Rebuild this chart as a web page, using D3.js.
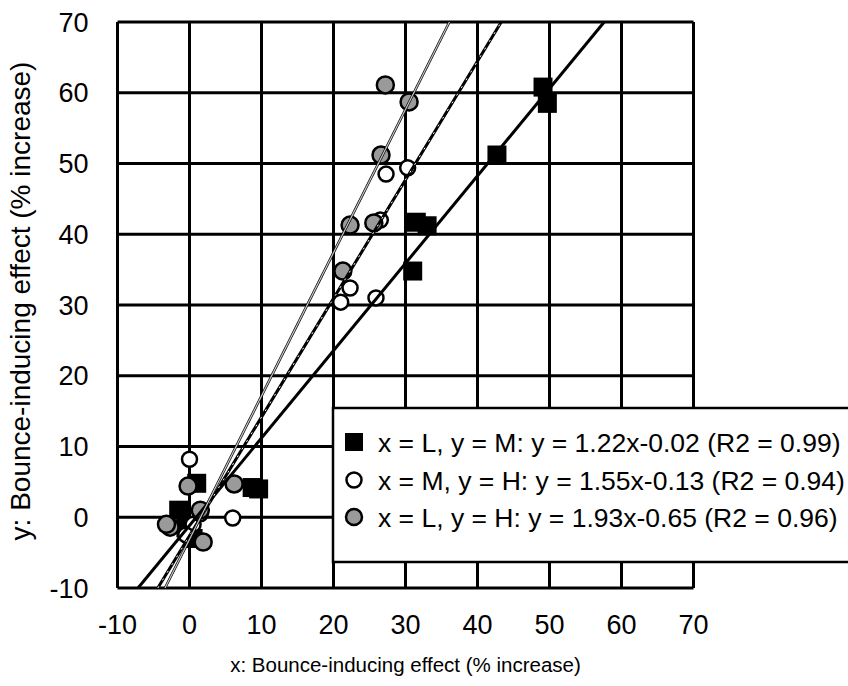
<!DOCTYPE html>
<html>
<head>
<meta charset="utf-8">
<script src="https://cdn.jsdelivr.net/npm/d3@7"></script>
<style>
  body { margin: 0; background: #fff; }
  text { font-family: "Liberation Sans", Arial, sans-serif; }
</style>
</head>
<body>
<div id="chart"></div>
<script>
const xTicks = [-10, 0, 10, 20, 30, 40, 50, 60, 70];
const yTicks = [-10, 0, 10, 20, 30, 40, 50, 60, 70];

// x = L, y = M (black squares)
const lmX = [-1.5, -0.5, 0.5, 1.0, 8.7, 9.6, 31.0, 31.5, 33.0, 42.7, 49.1, 49.7];
const lmY = [1.0, -1.5, -3.0, 4.8, 4.2, 4.0, 34.8, 41.7, 41.2, 51.2, 60.8, 58.5];
// x = M, y = H (open circles)
const mhX = [0.0, 6.0, 0.5, 1.5, -0.5, 21.0, 22.3, 25.9, 26.5, 27.3, 30.3];
const mhY = [8.2, -0.1, -1.0, 0.5, -2.5, 30.4, 32.4, 31.0, 42.0, 48.5, 49.4];
// x = L, y = H (grey circles)
const lhX = [-0.2, 6.2, -2.7, -3.2, 1.9, 1.5, 21.3, 22.3, 25.6, 26.6, 27.2, 30.5];
const lhY = [4.4, 4.7, -1.4, -1.0, -3.5, 1.0, 34.8, 41.3, 41.6, 51.2, 61.1, 58.7];

// trend lines as drawn in the figure: [x at y=-10, x at y=70]
const lmLineX = [-7.15, 57.6];
const mhLineX = [-4.4, 43.3];
const lhLineX = [-3.4, 36.1];
const lineY = [-10, 70];

const legendLabels = [
  'x = L, y = M: y = 1.22x-0.02 (R2 = 0.99)',
  'x = M, y = H: y = 1.55x-0.13 (R2 = 0.94)',
  'x = L, y = H: y = 1.93x-0.65 (R2 = 0.96)'
];

const W = 848, H = 686;
const margin = { top: 22, right: 154.5, bottom: 98, left: 117.5 };
const width = W - margin.left - margin.right;
const height = H - margin.top - margin.bottom;

const svg = d3.select('#chart')
  .append('svg')
  .attr('width', W)
  .attr('height', H);

const g = svg.append('g')
  .attr('transform', `translate(${margin.left},${margin.top})`);

const xScale = d3.scaleLinear().domain([-10, 70]).range([0, width]);
const yScale = d3.scaleLinear().domain([-10, 70]).range([height, 0]);

// grid
g.append('g')
  .selectAll('line')
  .data(xTicks)
  .enter()
  .append('line')
  .attr('x1', d => xScale(d)).attr('x2', d => xScale(d))
  .attr('y1', 0).attr('y2', height)
  .attr('stroke', '#000').attr('stroke-width', 3);
g.append('g')
  .selectAll('line')
  .data(yTicks)
  .enter()
  .append('line')
  .attr('x1', 0).attr('x2', width)
  .attr('y1', d => yScale(d)).attr('y2', d => yScale(d))
  .attr('stroke', '#000').attr('stroke-width', 3);

// tick labels
g.append('g')
  .selectAll('text')
  .data(yTicks)
  .enter()
  .append('text')
  .attr('x', -29)
  .attr('y', d => yScale(d))
  .attr('dy', '0.36em')
  .attr('text-anchor', 'end')
  .attr('font-size', 27)
  .text(d => d);
g.append('g')
  .selectAll('text')
  .data(xTicks)
  .enter()
  .append('text')
  .attr('x', d => xScale(d))
  .attr('y', height + 46)
  .attr('text-anchor', 'middle')
  .attr('font-size', 27)
  .text(d => d);

// axis titles
svg.append('text')
  .attr('x', margin.left + width / 2)
  .attr('y', 672)
  .attr('text-anchor', 'middle')
  .attr('font-size', 20.5)
  .text('x: Bounce-inducing effect (% increase)');
svg.append('text')
  .attr('transform', `translate(30,${margin.top + height / 2 - 4}) rotate(-90)`)
  .attr('text-anchor', 'middle')
  .attr('font-size', 28)
  .text('y: Bounce-inducing effect (% increase)');

// markers
const sq = 19;
g.append('g')
  .selectAll('rect')
  .data(d3.zip(lmX, lmY))
  .enter()
  .append('rect')
  .attr('x', d => xScale(d[0]) - sq / 2)
  .attr('y', d => yScale(d[1]) - sq / 2)
  .attr('width', sq).attr('height', sq)
  .attr('fill', '#000');
g.append('g')
  .selectAll('circle')
  .data(d3.zip(mhX, mhY))
  .enter()
  .append('circle')
  .attr('cx', d => xScale(d[0]))
  .attr('cy', d => yScale(d[1]))
  .attr('r', 7.5)
  .attr('fill', '#fff')
  .attr('stroke', '#000').attr('stroke-width', 2.5);
g.append('g')
  .selectAll('circle')
  .data(d3.zip(lhX, lhY))
  .enter()
  .append('circle')
  .attr('cx', d => xScale(d[0]))
  .attr('cy', d => yScale(d[1]))
  .attr('r', 8.5)
  .attr('fill', '#9a9a9a')
  .attr('stroke', '#000').attr('stroke-width', 2.5);

// trend lines
const lines = g.append('g');
function trendLine(xs, stroke, sw, inner, innerW, dash) {
  const pts = d3.zip(xs, lineY).map(p => [xScale(p[0]), yScale(p[1])]);
  lines.append('line')
    .attr('x1', pts[0][0]).attr('y1', pts[0][1])
    .attr('x2', pts[1][0]).attr('y2', pts[1][1])
    .attr('stroke', stroke).attr('stroke-width', sw);
  if (inner) {
    lines.append('line')
      .attr('x1', pts[0][0]).attr('y1', pts[0][1])
      .attr('x2', pts[1][0]).attr('y2', pts[1][1])
      .attr('stroke', inner).attr('stroke-width', innerW)
      .attr('stroke-dasharray', dash);
  }
}
trendLine(lmLineX, '#000', 3);
trendLine(mhLineX, '#000', 3, '#fff', 1, '2,7');
trendLine(lhLineX, '#000', 2.6, '#c8c8c8', 1.2, null);

// legend
const legend = svg.append('g').attr('transform', 'translate(333,408)');
legend.append('rect')
  .attr('width', 540).attr('height', 154)
  .attr('fill', '#fff')
  .attr('stroke', '#000').attr('stroke-width', 2.5);
const rowY = [34, 72, 109];
legend.append('rect')
  .attr('x', 12).attr('y', rowY[0] - 9).attr('width', 18).attr('height', 18)
  .attr('fill', '#000');
legend.append('circle')
  .attr('cx', 21).attr('cy', rowY[1]).attr('r', 7.5)
  .attr('fill', '#fff').attr('stroke', '#000').attr('stroke-width', 2.5);
legend.append('circle')
  .attr('cx', 21).attr('cy', rowY[2]).attr('r', 8)
  .attr('fill', '#9a9a9a').attr('stroke', '#000').attr('stroke-width', 2.5);
legend.selectAll('text.lab')
  .data(legendLabels)
  .enter()
  .append('text')
  .attr('class', 'lab')
  .attr('x', 45)
  .attr('y', (d, i) => rowY[i])
  .attr('dy', '0.36em')
  .attr('font-size', 26.5)
  .text(d => d);
</script>
</body>
</html>
